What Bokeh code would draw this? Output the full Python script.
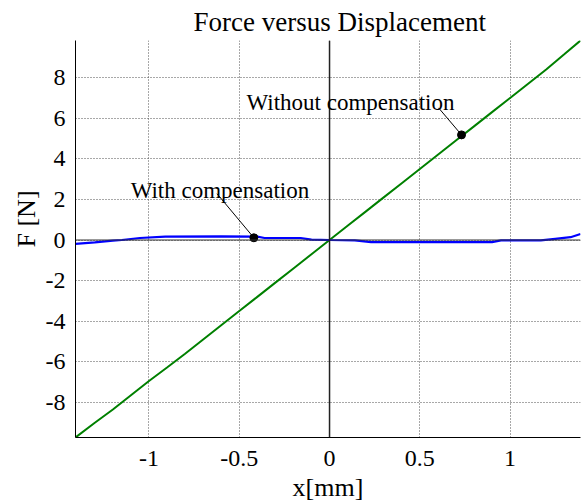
from bokeh.plotting import figure
from bokeh.models import Label, Span, FixedTicker, Range1d, Title
from bokeh.embed import file_html
from bokeh.resources import INLINE

# ---- data ----
x_without = [-1.407, -1.3, -1.2, -1.1, -1.0, -0.9, -0.8, -0.7, -0.6, -0.5, -0.4, -0.3, -0.2, -0.1,
             0.0, 0.1, 0.2, 0.3, 0.4, 0.5, 0.6, 0.7, 0.8, 0.9, 1.0, 1.1, 1.2, 1.3, 1.39]
f_without = [-9.73, -9.0, -8.35, -7.65, -6.95, -6.28, -5.6, -4.9, -4.2, -3.5, -2.8, -2.1, -1.4, -0.7,
             0.0, 0.7, 1.4, 2.1, 2.8, 3.5, 4.2, 4.9, 5.6, 6.3, 7.0, 7.7, 8.4, 9.15, 9.83]

x_with = [-1.407, -1.3, -1.2, -1.15, -1.05, -0.91, -0.6, -0.4, -0.36, -0.16, -0.1, 0.0,
          0.14, 0.23, 0.5, 0.726, 0.9, 0.95, 1.17, 1.25, 1.335, 1.39]
f_with = [-0.19, -0.12, -0.03, 0.0, 0.1, 0.17, 0.18, 0.17, 0.1, 0.1, 0.02, 0.0,
          -0.02, -0.1, -0.1, -0.1, -0.1, -0.02, -0.02, 0.06, 0.14, 0.3]

x_ticks = [-1, -0.5, 0, 0.5, 1]
y_ticks = [-8, -6, -4, -2, 0, 2, 4, 6, 8]
x_tick_labels = {-1: "-1", -0.5: "-0.5", 0: "0", 0.5: "0.5", 1: "1"}
y_tick_labels = {v: str(v) for v in y_ticks}

# annotation anchors (data coords): text position, leader start, marked point
ann_texts = ["With compensation", "Without compensation"]
ann_text_x = [-0.607, 0.116]
ann_text_y = [2.44, 6.79]
ann_lead_x = [-0.623, 0.604]
ann_lead_y = [2.28, 6.51]
ann_pt_x = [-0.419, 0.731]
ann_pt_y = [0.11, 5.18]

FONT = "Liberation Serif"

p = figure(width=584, height=504, output_backend="svg", toolbar_location=None,
           x_range=Range1d(-1.407, 1.39), y_range=Range1d(-9.73, 9.83))
p.min_border_left = 75
p.min_border_right = 4
p.min_border_top = 40
p.min_border_bottom = 67
p.outline_line_color = None
p.background_fill_color = "white"
p.border_fill_color = "white"

t = Title(text="Force versus Displacement", align="left", offset=118,
          text_font=FONT, text_font_size="27px", text_font_style="normal",
          text_color="black", standoff=8)
p.add_layout(t, "above")

ylab = Title(text="F [N]", align="left", offset=190,
             text_font=FONT, text_font_size="26px", text_font_style="normal",
             text_color="black", standoff=4)
p.add_layout(ylab, "left")

# axes
for ax in (p.xaxis[0], p.yaxis[0]):
    ax.axis_line_color = "black"
    ax.axis_line_width = 1
    ax.major_tick_out = 0
    ax.major_tick_in = 0
    ax.minor_tick_out = 0
    ax.minor_tick_in = 0
    ax.major_label_text_font = FONT
    ax.major_label_text_font_size = "24px"
    ax.major_label_text_color = "black"

p.xaxis.ticker = FixedTicker(ticks=x_ticks)
p.yaxis.ticker = FixedTicker(ticks=y_ticks)
p.xaxis.major_label_overrides = x_tick_labels
p.yaxis.major_label_overrides = y_tick_labels
p.xaxis.major_label_standoff = 13
p.yaxis.major_label_standoff = 10

p.xaxis.axis_label = "x[mm]"
p.xaxis.axis_label_text_font = FONT
p.xaxis.axis_label_text_font_size = "26px"
p.xaxis.axis_label_text_font_style = "normal"
p.xaxis.axis_label_text_color = "black"
p.xaxis.axis_label_standoff = 4

# grid
for g in (p.xgrid[0], p.ygrid[0]):
    g.grid_line_color = "#505050"
    g.grid_line_dash = "1 2"
    g.grid_line_width = 1
p.xgrid.ticker = FixedTicker(ticks=x_ticks)
p.ygrid.ticker = FixedTicker(ticks=y_ticks)

# zero lines
p.add_layout(Span(location=0, dimension="width", line_color="#333333", line_width=1))
p.add_layout(Span(location=0, dimension="height", line_color="#222222", line_width=1.5))

# curves
p.line(x_without, f_without, line_color="#008000", line_width=2)
p.line(x_with, f_with, line_color="#0000ff", line_width=2.2)

# annotations
p.segment(x0=ann_lead_x, y0=ann_lead_y, x1=ann_pt_x, y1=ann_pt_y, line_color="black", line_width=1)
p.scatter(ann_pt_x, ann_pt_y, size=8, fill_color="black", line_color="black")
for txt, tx, ty in zip(ann_texts, ann_text_x, ann_text_y):
    p.add_layout(Label(x=tx, y=ty, text=txt, text_align="center", text_baseline="alphabetic",
                       text_font=FONT, text_font_size="23px", text_color="black"))

open("out.html", "w").write(file_html(p, INLINE))
